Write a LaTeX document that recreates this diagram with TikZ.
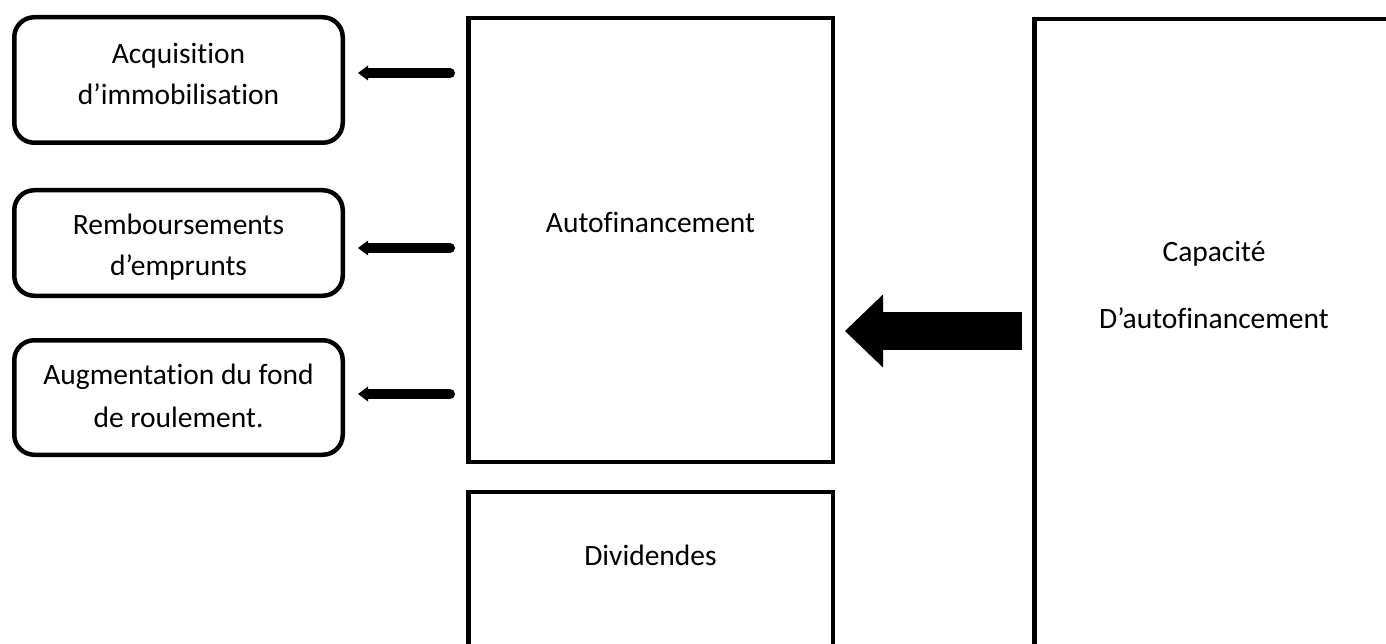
\documentclass[tikz,border=0pt]{standalone}
\usepackage{fontspec}
\setmainfont{Carlito}[Ligatures={NoCommon}]
\usetikzlibrary{arrows.meta}
\begin{document}
\begin{tikzpicture}[x=1pt,y=-1pt,
  box/.style={draw=black, line width=4.5pt, inner sep=0pt, outer sep=0pt, fill=white},
  rbox/.style={box, rounded corners=20pt},
  lbl/.style={font=\fontsize{29.5}{41}\selectfont, align=center, anchor=base, inner sep=0pt},
  smallarrow/.style={line width=10pt, line cap=round,
    -{Triangle[length=10pt 0, width=15pt 0, line width=0pt 0 0]}},
  bigarrow/.style={line width=38pt,
    -{Triangle[length=38pt 0, width=73pt 0, line width=0pt 0 0]}}]
\clip (0,0) rectangle (1386,644);
\fill[white] (0,0) rectangle (1386,644);

% left rounded boxes
\node[rbox, minimum width=328.5pt, minimum height=125.5pt] (acq) at (178.5,80) {};
\node[rbox, minimum width=328.5pt, minimum height=105.5pt] (remb) at (178.5,243) {};
\node[rbox, minimum width=328.5pt, minimum height=114.5pt] (augm) at (178.5,397.5) {};

% middle boxes
\node[box, minimum width=364.5pt, minimum height=443.5pt] (autof) at (650.5,240) {};
\node[box, minimum width=364.5pt, minimum height=207.75pt] (div) at (650.5,596) {};

% right box
\node[box, minimum width=364.5pt, minimum height=680.75pt] (cap) at (1216.5,359.6) {};

% texts (base anchor = baseline of the last line)
\node[lbl] (acqt) at (178.5,105) {Acquisition\\d’immobilisation};
\node[lbl] (rembt) at (178.5,276) {Remboursements\\d’emprunts};
\node[lbl] (augmt) at (178.5,427) {Augmentation du fond\\[2pt]de roulement.};
\node[lbl] (autoft) at (650.5,233) {Autofinancement};
\node[lbl] (divt) at (650.5,565) {Dividendes};
\node[lbl] (capt) at (1214,328) {Capacité\\[26pt]D’autofinancement};

% arrows
\coordinate (y1) at (0,73);
\coordinate (y2) at (0,248);
\coordinate (y3) at (0,394);
\coordinate (yb) at (0,331);
\draw[smallarrow, shorten <=18.25pt, shorten >=15.25pt] (autof.west |- y1) -- (acq.east |- y1);
\draw[smallarrow, shorten <=18.25pt, shorten >=15.25pt] (autof.west |- y2) -- (remb.east |- y2);
\draw[smallarrow, shorten <=18.25pt, shorten >=15.25pt] (autof.west |- y3) -- (augm.east |- y3);
\draw[bigarrow, shorten <=12.25pt, shorten >=12.25pt] (cap.west |- yb) -- (autof.east |- yb);
\end{tikzpicture}
\end{document}
